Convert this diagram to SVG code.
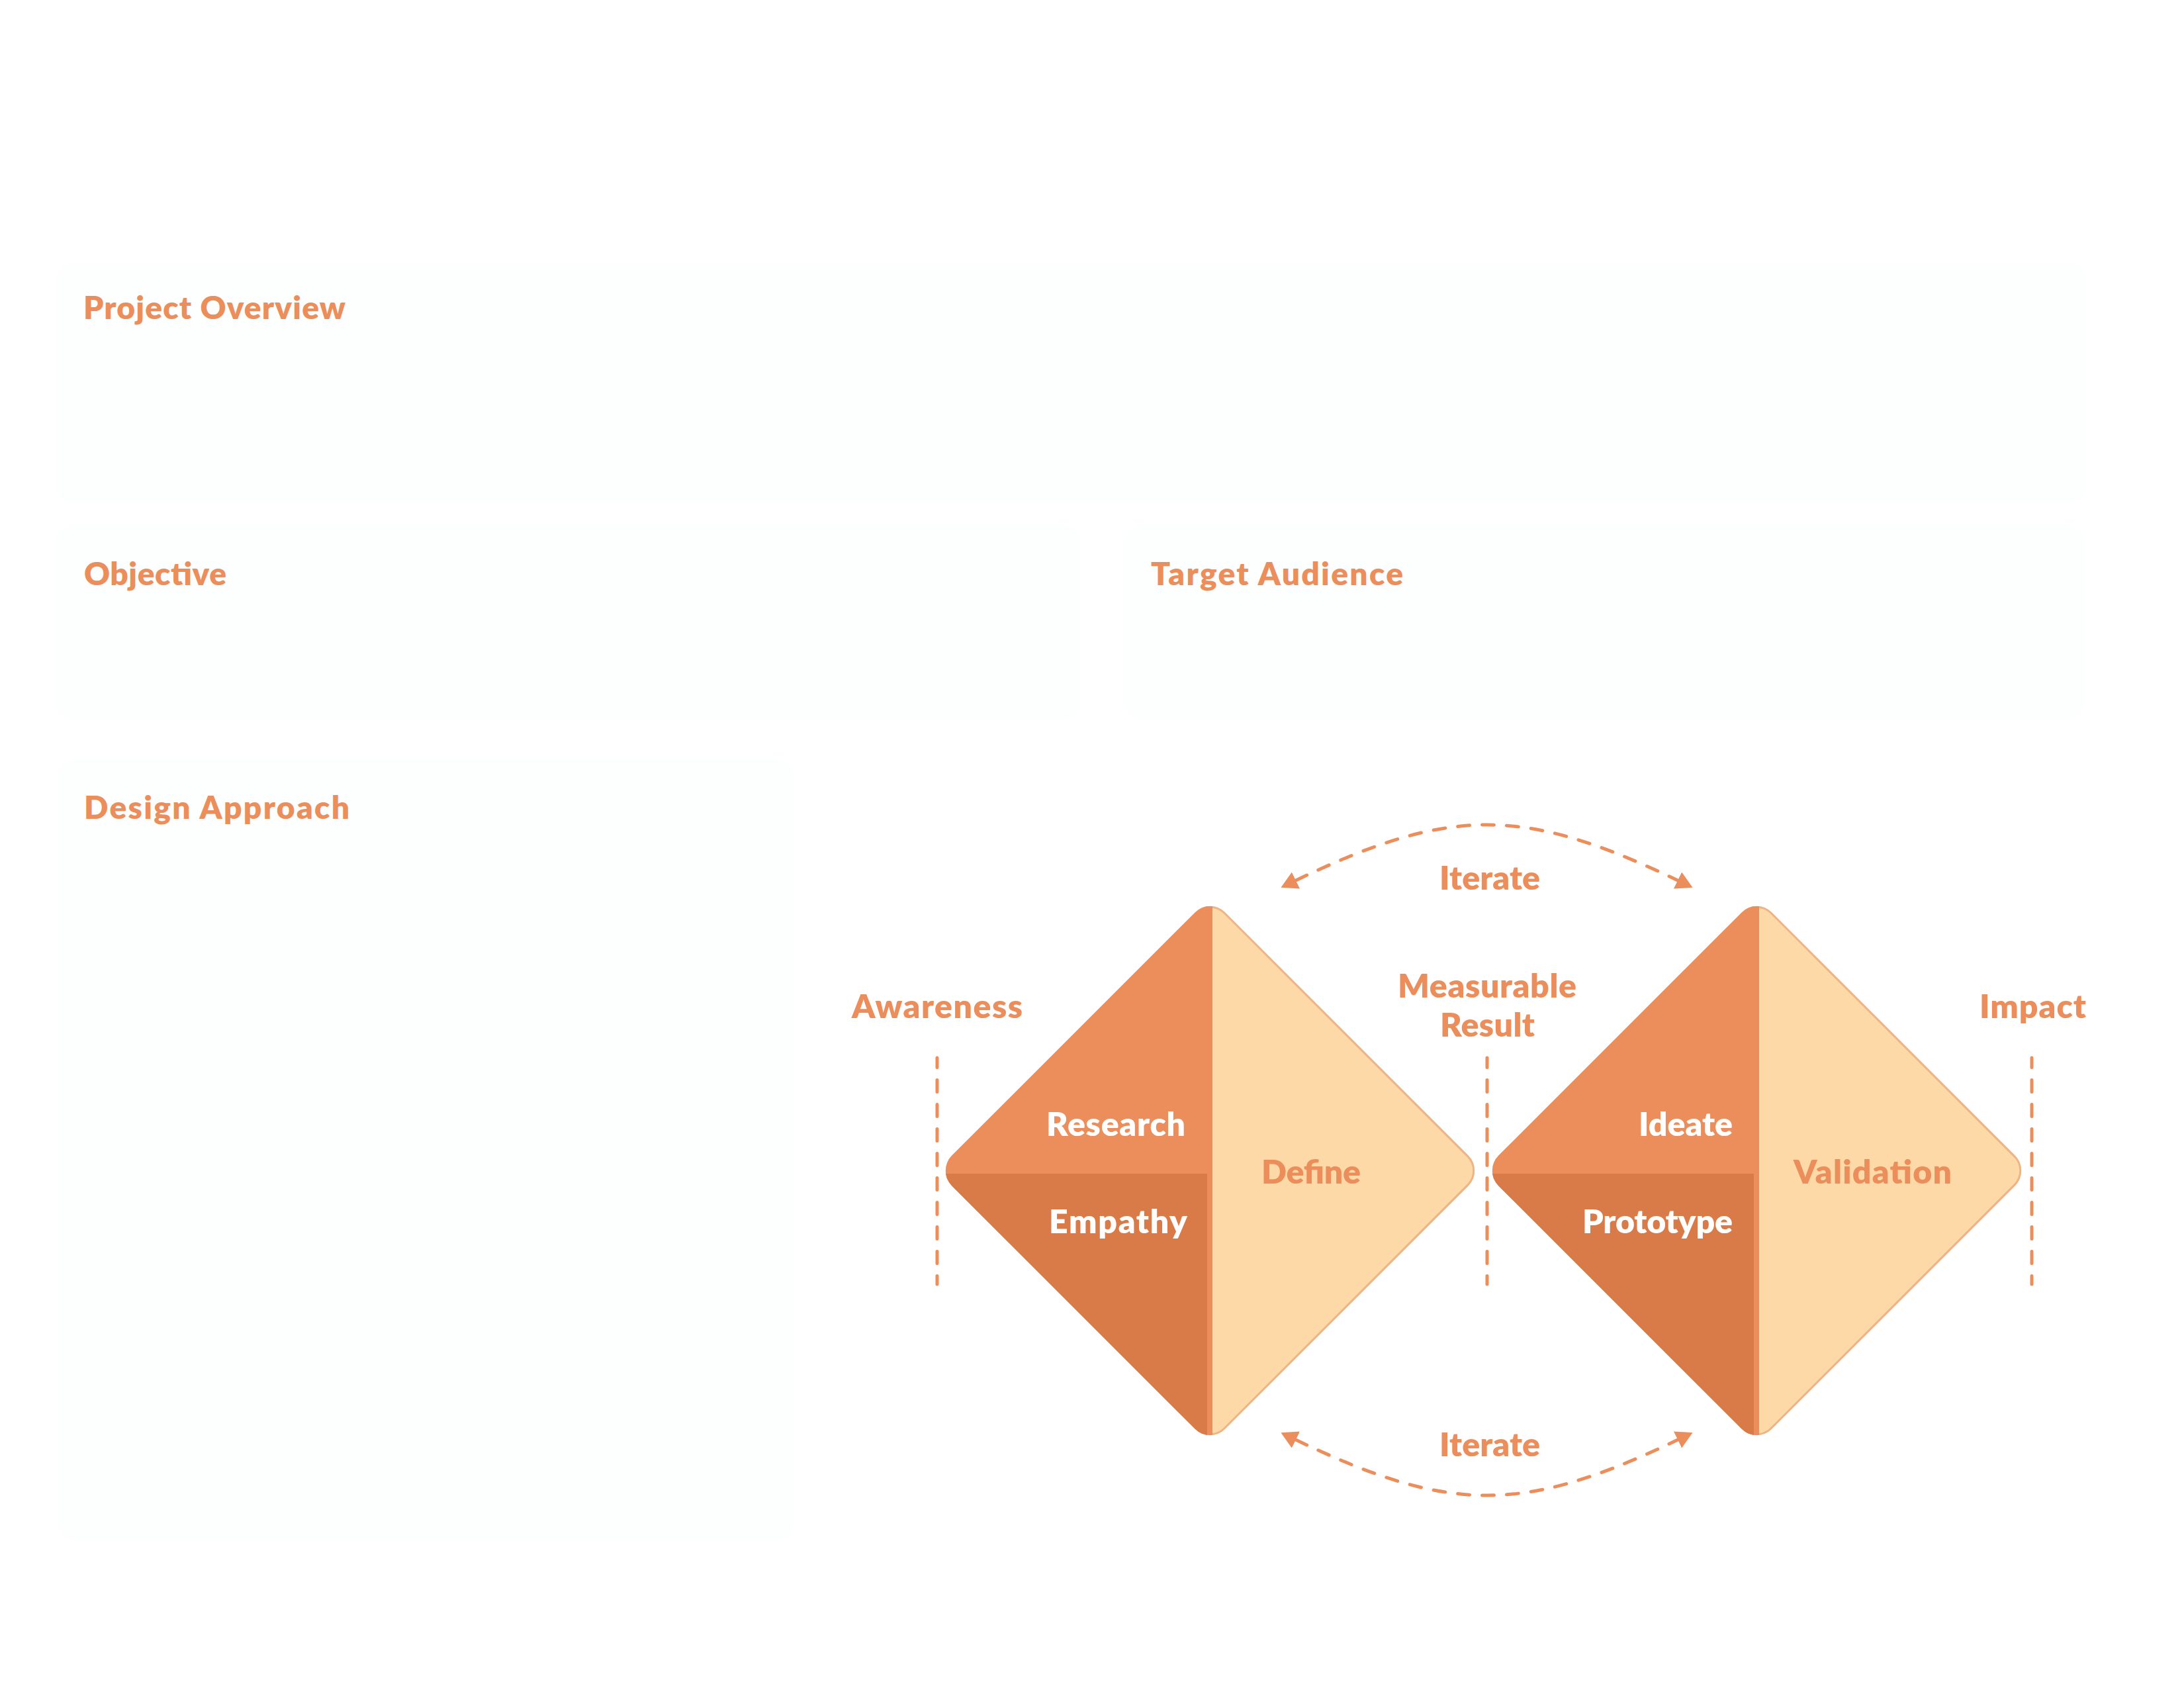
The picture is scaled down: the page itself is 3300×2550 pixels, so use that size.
<svg xmlns="http://www.w3.org/2000/svg" xmlns:xlink="http://www.w3.org/1999/xlink" width="3300" height="2550" viewBox="0 0 3300 2550">
<style>
  .panel{fill:#FDFEFE}
  .title{font-family:Lato,"Liberation Sans",sans-serif;font-weight:800;font-size:48px;fill:#EC8E5B}
  .lbl{font-family:Lato,"Liberation Sans",sans-serif;font-weight:800;font-size:50px;fill:#EC8E5B}
  .w{fill:#FFFFFF}
  .mid{text-anchor:middle}
  .end{text-anchor:end}
  .dash{fill:none;stroke:#EC8E5B;stroke-width:5;stroke-linecap:round;stroke-dasharray:18 19}
  .orange{fill:#EB8E5B}
  .dark{fill:#D97B48}
  .peach{fill:#FDD9A7}
  .edge{fill:none;stroke:#EEB485;stroke-width:6}
</style>
<defs>
  <path id="dshape" d="M -390.37,-22.63 L -22.63,-390.37 A 32 32 0 0 1 22.63,-390.37 L 390.37,-22.63 A 32 32 0 0 1 390.37,22.63 L 22.63,390.37 A 32 32 0 0 1 -22.63,390.37 L -390.37,22.63 A 32 32 0 0 1 -390.37,-22.63 Z"/>
  <clipPath id="dclip"><use xlink:href="#dshape" href="#dshape"/></clipPath>
  <clipPath id="rhalf"><rect x="3.5" y="-420" width="420" height="840"/></clipPath>
  <marker id="arr" markerUnits="userSpaceOnUse" markerWidth="30" markerHeight="30" refX="0" refY="14" orient="auto-start-reverse">
    <path d="M0,0 L25,14 L0,28 Z" fill="#EC8E5B"/>
  </marker>
</defs>

<g id="panel-overview"><rect class="panel" x="85" y="396" width="3067" height="364" rx="28"/>
  <text class="title" x="126" y="482" textLength="396">Project Overview</text></g>
<g id="panel-objective"><rect class="panel" x="83" y="793" width="1550" height="294" rx="28"/>
  <text class="title" x="127" y="884" textLength="215">Objective</text></g>
<g id="panel-audience"><rect class="panel" x="1697" y="793" width="1453" height="294" rx="28"/>
  <text class="title" x="1739" y="884" textLength="381">Target Audience</text></g>
<g id="panel-approach"><rect class="panel" x="87" y="1146" width="1113" height="1181" rx="28"/>
  <text class="title" x="127" y="1237" textLength="401">Design Approach</text></g>

<g id="connectors">
  <path class="dash" d="M1416,1598 L1416,1940" stroke-dashoffset="3.5"/>
  <path class="dash" d="M2247,1598 L2247,1940" stroke-dashoffset="3.5"/>
  <path class="dash" d="M3070,1598 L3070,1940" stroke-dashoffset="3.5"/>
  <path class="dash" d="M1958,1330 C2191.6,1218 2301.4,1218 2535,1330" marker-start="url(#arr)" marker-end="url(#arr)"/>
  <path class="dash" d="M1958,2175 C2191.6,2287 2301.4,2287 2535,2175" marker-start="url(#arr)" marker-end="url(#arr)"/>
</g>

<g id="diamond-1">
  <g transform="translate(1828.5,1768.5)">
    <g clip-path="url(#dclip)">
      <rect class="peach" x="-420" y="-420" width="840" height="840"/>
      <rect class="orange" x="-420" y="-420" width="423.5" height="840"/>
      <rect class="dark" x="-420" y="4.5" width="415.5" height="420"/>
      <g clip-path="url(#rhalf)"><use class="edge" xlink:href="#dshape" href="#dshape"/></g>
    </g>
  </g>
  <text class="lbl w end" x="1791" y="1716" textLength="210">Research</text>
  <text class="lbl w end" x="1794" y="1863" textLength="209">Empathy</text>
  <text class="lbl mid" x="1981" y="1788" textLength="150">Define</text>
</g>

<g id="diamond-2">
  <g transform="translate(2654.5,1768.5)">
    <g clip-path="url(#dclip)">
      <rect class="peach" x="-420" y="-420" width="840" height="840"/>
      <rect class="orange" x="-420" y="-420" width="423.5" height="840"/>
      <rect class="dark" x="-420" y="4.5" width="415.5" height="420"/>
      <g clip-path="url(#rhalf)"><use class="edge" xlink:href="#dshape" href="#dshape"/></g>
    </g>
  </g>
  <text class="lbl w end" x="2618" y="1716" textLength="142">Ideate</text>
  <text class="lbl w end" x="2618" y="1863" textLength="227">Prototype</text>
  <text class="lbl mid" x="2829.5" y="1788" textLength="239">Validation</text>
</g>

<g id="label-awareness"><text class="lbl mid" x="1416" y="1538" textLength="258">Awareness</text></g>
<g id="label-measurable"><text class="lbl mid" x="2247" y="1507" textLength="270">Measurable</text>
  <text class="lbl mid" x="2247.5" y="1566" textLength="143">Result</text></g>
<g id="label-impact"><text class="lbl mid" x="3071.5" y="1538" textLength="161">Impact</text></g>
<g id="label-iterate-top"><text class="lbl mid" x="2251" y="1344" textLength="152">Iterate</text></g>
<g id="label-iterate-bottom"><text class="lbl mid" x="2251" y="2200" textLength="152">Iterate</text></g>
</svg>
